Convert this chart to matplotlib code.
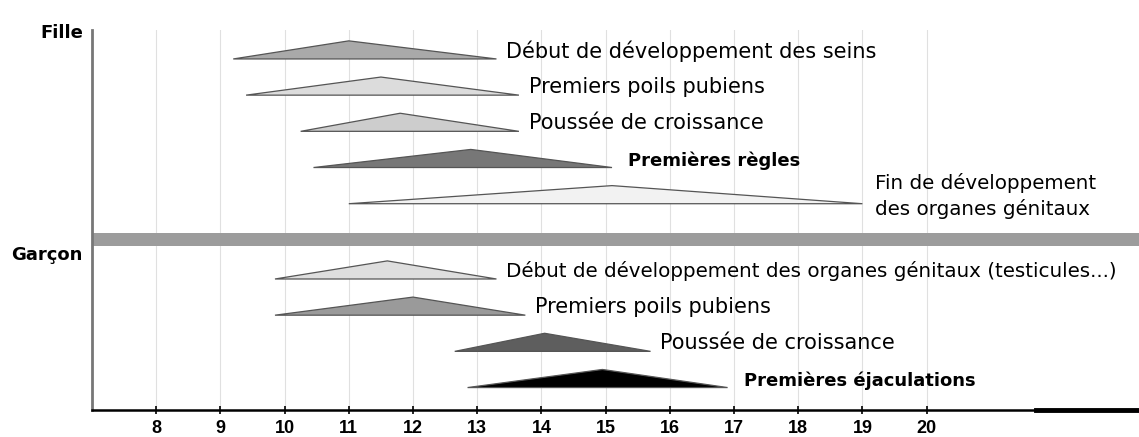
"""Puberty timeline chart: age ranges of pubertal events for girls and boys."""
import matplotlib
matplotlib.use("Agg")
import matplotlib.pyplot as plt

plt.rcParams['font.family'] = ['DejaVu Sans']

# ---------------------------------------------------------------------------
# Data: (start, peak, end) ages for each event
# ---------------------------------------------------------------------------
fille_labels = ["Début de développement des seins", "Premiers poils pubiens",
                "Poussée de croissance", "Premières règles",
                "Fin de développement\ndes organes génitaux"]
fille_start = [9.2, 9.4, 10.25, 10.45, 11.0]
fille_peak = [11.0, 11.5, 11.8, 12.9, 15.1]
fille_end = [13.3, 13.65, 13.65, 15.1, 19.0]

garcon_labels = ["Début de développement des organes génitaux (testicules...)",
                 "Premiers poils pubiens", "Poussée de croissance",
                 "Premières éjaculations"]
garcon_start = [9.85, 9.85, 12.65, 12.85]
garcon_peak = [11.6, 12.0, 14.05, 14.95]
garcon_end = [13.3, 13.75, 15.7, 16.9]

ages = list(range(8, 21))

# styling
fille_fill = ['#a9a9a9', '#dcdcdc', '#cdcdcd', '#777777', '#f2f2f2']
fille_bold = [False, False, False, True, False]
fille_size = [15, 15, 15, 13, 14.3]
garcon_fill = ['#dedede', '#9a9a9a', '#5e5e5e', '#000000']
garcon_bold = [False, False, False, True]
garcon_size = [14.3, 15, 15, 13]

fig = plt.figure(figsize=(11.39, 4.37), dpi=100)
ax = fig.add_axes([92 / 1139, 27 / 437, 1047 / 1139, 380 / 437])
ax.set_xlim(7, 7 + 1047 / 64.2)
ax.set_ylim(0, 10.5)

for a in ages:
    ax.axvline(a, color='#e0e0e0', lw=0.8, zorder=0)

# separator band
ax.axhspan(4.53, 4.89, color='#9c9c9c', lw=0, zorder=1)


def draw_rows(starts, peaks, ends, labels, fills, bolds, sizes, y0):
    for i, (s, p, e) in enumerate(zip(starts, peaks, ends)):
        y = y0 - i
        ax.fill([s, p, e], [y, y + 0.5, y], facecolor=fills[i],
                edgecolor='#555555', lw=0.9, zorder=3)
        if bolds[i]:
            ax.text(e + 0.25, y + 0.2, labels[i], fontsize=sizes[i],
                    fontweight='bold', va='center', ha='left')
        elif '\n' in labels[i]:
            ax.text(e + 0.2, y + 0.22, labels[i], fontsize=sizes[i], va='center',
                    ha='left', linespacing=1.4)
        else:
            ax.text(e + 0.15, y + 0.22, labels[i], fontsize=sizes[i],
                    va='center', ha='left')


draw_rows(fille_start, fille_peak, fille_end, fille_labels, fille_fill,
          fille_bold, fille_size, 9.7)
draw_rows(garcon_start, garcon_peak, garcon_end, garcon_labels, garcon_fill,
          garcon_bold, garcon_size, 3.62)

for sp in ('top', 'right'):
    ax.spines[sp].set_visible(False)
ax.spines['left'].set_color('#777777')
ax.spines['left'].set_linewidth(2)
ax.spines['bottom'].set_linewidth(1.8)
ax.plot([21.7, ax.get_xlim()[1]], [0, 0], color='black', lw=3.5, clip_on=False, zorder=5)

ax.set_yticks([])
ax.set_xticks(ages)
ax.set_xticklabels([str(a) for a in ages], fontsize=13, fontweight='bold',
                   family='Liberation Sans')
ax.tick_params(axis='x', direction='inout', length=6, width=1.2, pad=4)

fig.text(83 / 1139, 1 - 33 / 437, "Fille", fontsize=13, fontweight='bold',
         ha='right', va='center')
fig.text(83 / 1139, 1 - 255 / 437, "Garçon", fontsize=13, fontweight='bold',
         ha='right', va='center')

fig.savefig("out.png", dpi=100)
